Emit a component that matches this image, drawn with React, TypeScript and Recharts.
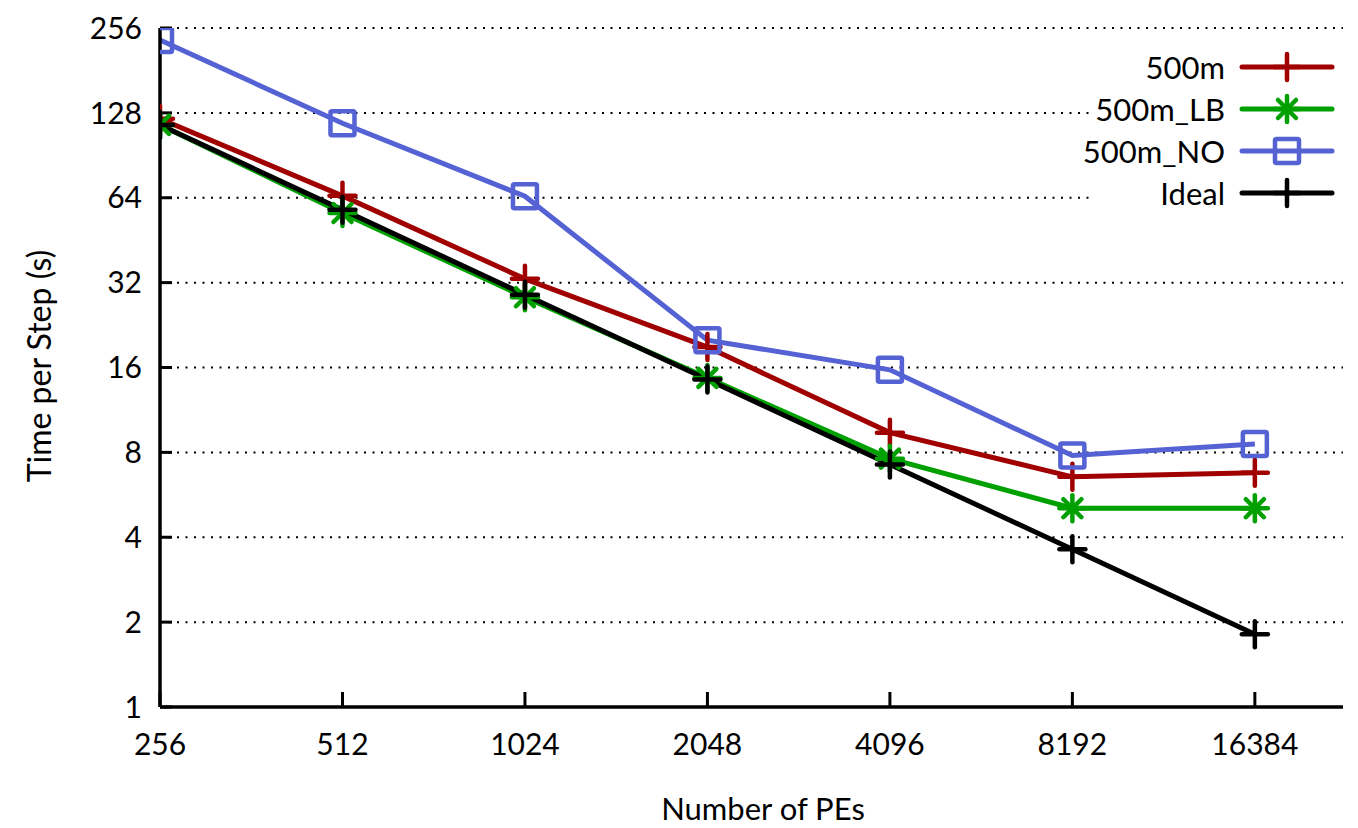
import React from 'react';
import { LineChart, Line, XAxis, YAxis, CartesianGrid, Label } from 'recharts';

// PEs on the x axis, time per step (s) for each run
const pes = [256, 512, 1024, 2048, 4096, 8192, 16384];
const run500m = [122, 65, 33, 18.9, 9.4, 6.55, 6.77];
const run500mLB = [116, 56.5, 28.4, 14.7, 7.6, 5.07, 5.07];
const run500mNO = [232, 117.6, 64.8, 20, 15.7, 7.8, 8.57];
const ideal = [116, 58, 29, 14.5, 7.25, 3.625, 1.8125];
const yTicks = [1, 2, 4, 8, 16, 32, 64, 128, 256];

const RED = '#a00000';
const GREEN = '#00a000';
const BLUE = '#5462d4';
const BLACK = '#000000';
const FONT = 'Lato, "Open Sans", sans-serif';

type Shape = 'plus' | 'star' | 'square';

const series: { key: string; name: string; color: string; shape: Shape }[] = [
  { key: 'm500', name: '500m', color: RED, shape: 'plus' },
  { key: 'lb', name: '500m_LB', color: GREEN, shape: 'star' },
  { key: 'no', name: '500m_NO', color: BLUE, shape: 'square' },
  { key: 'ideal', name: 'Ideal', color: BLACK, shape: 'plus' },
];

const data = pes.map((p, i) => ({
  pes: p,
  m500: run500m[i],
  lb: run500mLB[i],
  no: run500mNO[i],
  ideal: ideal[i],
}));

function Marker({ cx, cy, color, shape }: { cx: number; cy: number; color: string; shape: Shape }) {
  const s = 13;
  if (shape === 'square') {
    return (
      <rect x={cx - 12} y={cy - 12} width={24} height={24} rx={1.5} fill="none" stroke={color} strokeWidth={4.5} />
    );
  }
  const d = 9;
  return (
    <g stroke={color} strokeWidth={4.5} strokeLinecap="round">
      <line x1={cx - s} y1={cy} x2={cx + s} y2={cy} />
      <line x1={cx} y1={cy - s} x2={cx} y2={cy + s} />
      {shape === 'star' && (
        <>
          <line x1={cx - d} y1={cy - d} x2={cx + d} y2={cy + d} />
          <line x1={cx - d} y1={cy + d} x2={cx + d} y2={cy - d} />
        </>
      )}
    </g>
  );
}

function ChartLegend() {
  return (
    <div
      style={{
        position: 'absolute',
        left: 1093,
        top: 46,
        width: 252,
        background: '#fff',
        fontFamily: FONT,
        fontSize: 31,
      }}
    >
      {series.map((s) => (
        <div key={s.key} style={{ position: 'relative', height: 42 }}>
          <span
            style={{
              position: 'absolute',
              right: 120,
              top: 0,
              lineHeight: '42px',
              whiteSpace: 'nowrap',
              background: '#fff',
              paddingLeft: 4,
            }}
          >
            {s.name}
          </span>
          <svg width={120} height={42} style={{ position: 'absolute', right: 0, top: 0, display: 'block' }}>
            <line x1={17} y1={21} x2={107} y2={21} stroke={s.color} strokeWidth={5} strokeLinecap="round" />
            <Marker cx={62} cy={21} color={s.color} shape={s.shape} />
          </svg>
        </div>
      ))}
    </div>
  );
}

export default function App() {
  return (
    <div style={{ position: 'absolute', left: 0, top: 0, width: 1358, height: 828, background: '#fff', fontFamily: FONT }}>
      <LineChart width={1358} height={828} data={data} margin={{ top: 28, right: 15, bottom: 0, left: 0 }}>
        <CartesianGrid vertical={false} stroke="#000" strokeWidth={2} strokeDasharray="2 6.5" />
        <XAxis
          dataKey="pes"
          type="number"
          scale="log"
          domain={[256, 22900]}
          ticks={pes}
          allowDataOverflow
          height={121}
          axisLine={{ stroke: '#000', strokeWidth: 3.5 }}
          tickLine={{ stroke: '#000', strokeWidth: 3 }}
          tickSize={-15}
          tickMargin={42}
          tick={{ fill: '#000', fontSize: 30, fontFamily: FONT }}
        >
          <Label
            content={() => (
              <text x={763} y={808} textAnchor="middle" dominantBaseline="central" fontSize={31} fontFamily={FONT} fill="#000">
                Number of PEs
              </text>
            )}
          />
        </XAxis>
        <YAxis
          type="number"
          scale="log"
          domain={[1, 256]}
          ticks={yTicks}
          allowDataOverflow
          width={160}
          axisLine={{ stroke: '#000', strokeWidth: 3.5 }}
          tickLine={{ stroke: '#000', strokeWidth: 3 }}
          tickSize={-12}
          tickMargin={30}
          tick={{ fill: '#000', fontSize: 30, fontFamily: FONT }}
        >
          <Label
            content={() => (
              <text
                x={38}
                y={366}
                transform="rotate(-90 38 366)"
                textAnchor="middle"
                dominantBaseline="central"
                fontSize={32}
                fontFamily={FONT}
                fill="#000"
              >
                Time per Step (s)
              </text>
            )}
          />
        </YAxis>
        {series.map((s) => (
          <Line
            key={s.key}
            dataKey={s.key}
            name={s.name}
            stroke={s.color}
            strokeWidth={5}
            isAnimationActive={false}
            dot={(p: any) => <Marker key={`${s.key}-${p.index}`} cx={p.cx} cy={p.cy} color={s.color} shape={s.shape} />}
            activeDot={false}
          />
        ))}
      </LineChart>
      <ChartLegend />
    </div>
  );
}
